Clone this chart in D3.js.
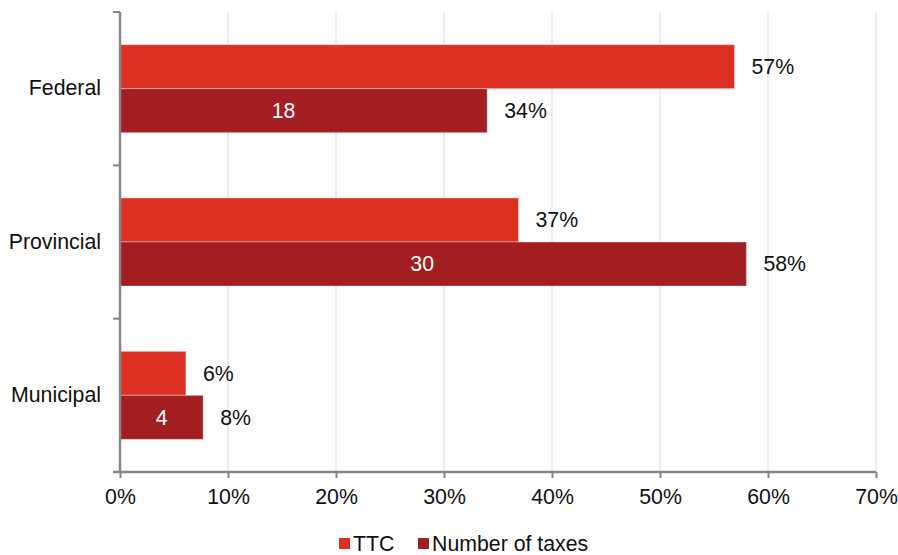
<!DOCTYPE html>
<html><head><meta charset="utf-8">
<script src="https://cdn.jsdelivr.net/npm/d3@7"></script>
<style>body{margin:0;background:#fff;} svg{display:block;font-family:"Liberation Sans",Arial,sans-serif;}</style>
</head><body><svg id="c" width="898" height="555"></svg>
<script>
const categories = ["Federal", "Provincial", "Municipal"];
const seriesNames = ["TTC", "Number of taxes"];
const ttcValues = [56.9, 36.9, 6.1];
const numberValues = [34.0, 58.0, 7.7];
const taxCounts = [18, 30, 4];
const ttcLabels = ["57%", "37%", "6%"];
const numberLabels = ["34%", "58%", "8%"];
const xTicks = [0, 10, 20, 30, 40, 50, 60, 70];
const colors = ["#dc3122", "#a31e21"];

const FS = 21.3;
const svg = d3.select("#c");
const mLeft = 120, mRight = 876, mTop = 12, mBottom = 472;
const x = d3.scaleLinear().domain([0, 70]).range([mLeft, mRight]);
const y = d3.scaleBand().domain(categories).range([mTop, mBottom]).padding(0);
const inner = d3.scaleBand().domain(seriesNames).range([0, y.bandwidth()]).paddingInner(0).paddingOuter(0.742);

// gridlines
svg.append("g").selectAll("line").data(xTicks.slice(1)).join("line")
  .attr("x1", d => x(d)).attr("x2", d => x(d)).attr("y1", mTop).attr("y2", mBottom)
  .attr("stroke", "#e6e6e6").attr("stroke-width", 1.5);

const data = [];
categories.forEach((c, i) => {
  data.push({cat: c, s: seriesNames[0], v: ttcValues[i], lab: ttcLabels[i], col: colors[0]});
  data.push({cat: c, s: seriesNames[1], v: numberValues[i], lab: numberLabels[i], col: colors[1], count: taxCounts[i]});
});

svg.append("g").selectAll("rect").data(data).join("rect")
  .attr("x", x(0)).attr("y", d => y(d.cat) + inner(d.s))
  .attr("width", d => x(d.v) - x(0)).attr("height", inner.bandwidth())
  .attr("fill", d => d.col).attr("stroke", "rgba(255,255,255,0.35)").attr("stroke-width", 1);

svg.append("g").selectAll("text").data(data).join("text")
  .attr("x", d => x(d.v) + 17).attr("y", d => y(d.cat) + inner(d.s) + inner.bandwidth() / 2)
  .attr("dy", "0.35em").attr("font-size", FS).attr("fill", "#111").text(d => d.lab);

svg.append("g").selectAll("text").data(data.filter(d => d.count != null)).join("text")
  .attr("x", d => x(d.v / 2) - (d.count > 20 ? 11 : d.count > 10 ? 20 : 0)).attr("y", d => y(d.cat) + inner(d.s) + inner.bandwidth() / 2)
  .attr("dy", "0.35em").attr("text-anchor", "middle").attr("font-size", FS).attr("fill", "#fff").text(d => d.count);

// x axis
const xa = svg.append("g").attr("transform", `translate(0,${mBottom})`)
  .call(d3.axisBottom(x).tickValues(xTicks).tickFormat(d => d + "%").tickSize(6).tickSizeOuter(0));
xa.select(".domain").attr("stroke", "#868686").attr("stroke-width", 2.5).attr("d", `M${mLeft - 7},0H${mRight}`);
xa.selectAll(".tick line").attr("stroke", "#868686").attr("stroke-width", 2);
xa.selectAll(".tick text").attr("font-size", FS).attr("fill", "#111").attr("y", 17).attr("font-family", "Liberation Sans, Arial, sans-serif");

// y axis
const ya = svg.append("g").attr("transform", `translate(${mLeft},0)`)
  .call(d3.axisLeft(y).tickSize(0).tickPadding(19));
ya.select(".domain").attr("stroke", "#868686").attr("stroke-width", 2.5).attr("d", `M0,${mTop}V${mBottom}`);
ya.selectAll(".tick text").attr("font-size", FS).attr("fill", "#111").attr("font-family", "Liberation Sans, Arial, sans-serif");
const bounds = categories.map(c => y(c)).concat([mBottom]);
svg.append("g").selectAll("line").data(bounds).join("line")
  .attr("x1", mLeft - 7).attr("x2", mLeft).attr("y1", d => d).attr("y2", d => d)
  .attr("stroke", "#868686").attr("stroke-width", 2);

// legend
const lg = svg.append("g").attr("transform", "translate(339,538)");
const legendX = [0, 79];
seriesNames.forEach((s, i) => {
  lg.append("rect").attr("x", legendX[i]).attr("y", 0).attr("width", 11).attr("height", 11).attr("fill", colors[i]);
  lg.append("text").attr("x", legendX[i] + 14).attr("y", 6).attr("dy", "0.35em").attr("font-size", FS).attr("fill", "#111").text(s);
});
</script></body></html>
